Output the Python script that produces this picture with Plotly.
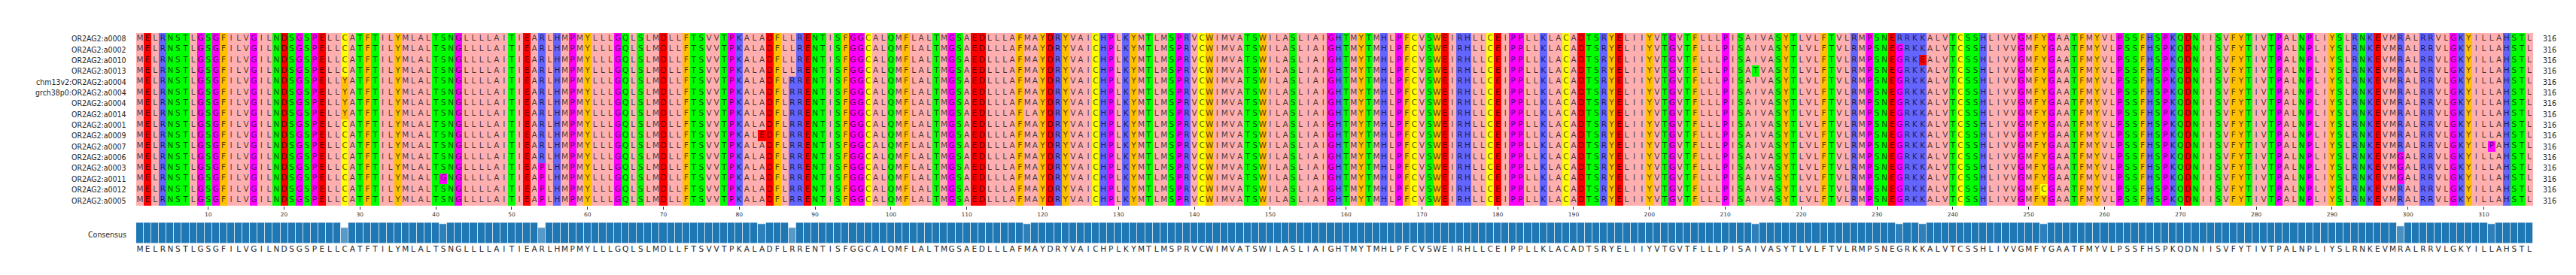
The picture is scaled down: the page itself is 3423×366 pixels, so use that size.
import plotly.graph_objects as go

names = ["OR2AG2:a0008", "OR2AG2:a0002", "OR2AG2:a0010", "OR2AG2:a0013",
         "chm13v2:OR2AG2:a0004", "grch38p0:OR2AG2:a0004", "OR2AG2:a0004",
         "OR2AG2:a0014", "OR2AG2:a0001", "OR2AG2:a0009", "OR2AG2:a0007",
         "OR2AG2:a0006", "OR2AG2:a0003", "OR2AG2:a0011", "OR2AG2:a0012",
         "OR2AG2:a0005"]

base_seq = ("MELRNSTLGS" "GFILVGILND" "SGSPELLCAT" "FTILYMLALT" "SNGLLLLAIT"
            "IEARLHMPMY" "LLLGQLSLMD" "LLFTSVVTPK" "ALADFLRREN" "TISFGGCALQ"
            "MFLALTMGSA" "EDLLLAFMAY" "DRYVAICHPL" "KYMTLMSPRV" "CWIMVATSWI"
            "LASLIAIGHT" "MYTMHLPFCV" "SWEIRHLLCE" "IPPLLKLACA" "DTSRYELIIY"
            "VTGVTFLLLP" "ISAIVASYTL" "VLFTVLRMPS" "NEGRKKALVT" "CSSHLIVVGM"
            "FYGAATFMYV" "LPSSFHSPKQ" "DNIISVFYTI" "VTPALNPLIY" "SLRNKEVMRA"
            "LRRVLGKYIL" "LAHSTL")

# substitutions read from the alignment: row index, 1-based position, residue
sub_rows = [4, 5, 6, 7, 13, 12, 13, 14, 15, 9, 0, 1, 2, 3, 7, 3, 0, 2, 14, 11, 12, 13, 10]
sub_pos = [28, 28, 28, 28, 41, 54, 54, 54, 54, 83, 87, 87, 87, 87, 118, 214, 233, 236, 252, 299, 299, 299, 311]
sub_res = "YYYYGPPPPELLLLLTRECGGGP"

seq_length = 316
tick_positions = list(range(10, 311, 10))

groups = ["AILMV", "DE", "RKH", "NSTQ", "GP", "FYW", "C"]
palette = ["#FFAFAF", "#FF0000", "#6464FF", "#00FF00", "#FF00FF", "#FFC000", "#FFFF00"]

# ---- build alignment -------------------------------------------------------
seqs = [list(base_seq) for _ in names]
for r, p, a in zip(sub_rows, sub_pos, sub_res):
    seqs[r][p - 1] = a
group_idx = {aa: gi for gi, g in enumerate(groups) for aa in g}

nrow = len(names)
ncol = len(base_seq)
positions = list(range(1, ncol + 1))

z = [[group_idx[seqs[r][c]] for c in range(ncol)] for r in range(nrow)]

cons_letters, cons_frac = [], []
for c in range(ncol):
    col = [seqs[r][c] for r in range(nrow)]
    best = max(set(col), key=lambda a: (col.count(a), a == base_seq[c]))
    cons_letters.append(best)
    cons_frac.append(col.count(best) / nrow)

k = len(palette)
cscale = []
for i, col in enumerate(palette):
    cscale.append([i / k, col])
    cscale.append([(i + 1) / k, col])

W, H = 3423.0, 366.0
L_PX, R_PX = 172.6, 3357.9
ROW_TOP, ROW_BOT = 36.0, 265.7
BAR_TOP, BAR_BOT = 288.3, 316.7
CONS_Y = 324.0


def px_x(x):
    return (x - L_PX) / (R_PX - L_PX)


def px_y(y):
    return 1 - y / H


FONT = "DejaVu Sans"
LABEL_FONT = "DejaVu Sans Condensed, DejaVu Sans"
fig = go.Figure()
fig.add_trace(go.Heatmap(
    x=positions, y=list(range(nrow)), z=z, colorscale=cscale, zmin=-0.5, zmax=k - 0.5,
    showscale=False, hoverinfo="skip", xgap=0, ygap=0))

tx, ty, tt = [], [], []
for r in range(nrow):
    for c in range(ncol):
        tx.append(c + 1); ty.append(r); tt.append(seqs[r][c])
fig.add_trace(go.Scatter(
    x=tx, y=ty, text=tt, mode="text", hoverinfo="skip",
    textfont=dict(family=FONT, size=10.5, color="rgba(0,0,0,0.72)")))

bar_colors = [f"rgba(31,119,180,{f:.4f})" for f in cons_frac]
fig.add_trace(go.Bar(
    x=positions, y=cons_frac, xaxis="x2", yaxis="y2", width=1,
    marker=dict(color=bar_colors, line=dict(color="rgba(255,255,255,0.6)", width=1)),
    hoverinfo="skip"))
fig.add_trace(go.Scatter(
    x=positions, y=[0] * ncol, text=cons_letters, mode="text", xaxis="x3", yaxis="y3",
    cliponaxis=False, hoverinfo="skip",
    textfont=dict(family=FONT, size=10.5, color="#262626")))

row_h = (ROW_BOT - ROW_TOP) / nrow
annotations = []
for r, nm in enumerate(names):
    yc = px_y(ROW_TOP + (r + 0.5) * row_h)
    annotations.append(dict(x=px_x(161.7), y=yc, xref="paper", yref="paper", text=nm,
                            showarrow=False, xanchor="right", yanchor="middle",
                            font=dict(family=LABEL_FONT, size=10.5, color="#262626")))
    annotations.append(dict(x=px_x(3369.3), y=yc, xref="paper", yref="paper",
                            text=str(seq_length), showarrow=False,
                            xanchor="left", yanchor="middle",
                            font=dict(family=LABEL_FONT, size=10.5, color="#262626")))
annotations.append(dict(x=px_x(161.7), y=px_y(304), xref="paper", yref="paper",
                        text="Consensus", showarrow=False, xanchor="right", yanchor="middle",
                        font=dict(family=LABEL_FONT, size=10.5, color="#262626")))

hidden = dict(showticklabels=False, showgrid=False, zeroline=False, ticks="", showline=False)
fig.update_layout(
    width=int(W), height=int(H),
    margin=dict(l=L_PX, r=W - R_PX, t=0, b=0, pad=0),
    paper_bgcolor="white", plot_bgcolor="white",
    showlegend=False, bargap=0,
    annotations=annotations,
    xaxis=dict(domain=[0, 1], range=[0.5, ncol + 0.5], anchor="y",
               tickvals=tick_positions, ticks="outside", ticklen=4, tickwidth=1,
               tickcolor="#333", tickfont=dict(family=FONT, size=7.5, color="#333"),
               showgrid=False, zeroline=False, showline=False),
    yaxis=dict(domain=[px_y(ROW_BOT), px_y(ROW_TOP)], range=[nrow - 0.5, -0.5], **hidden),
    xaxis2=dict(domain=[0, 1], range=[0.5, ncol + 0.5], anchor="y2", **hidden),
    yaxis2=dict(domain=[px_y(BAR_BOT), px_y(BAR_TOP)], range=[0, 1], **hidden),
    xaxis3=dict(domain=[0, 1], range=[0.5, ncol + 0.5], anchor="y3", **hidden),
    yaxis3=dict(domain=[px_y(CONS_Y + 6), px_y(CONS_Y - 6)], range=[-1, 1], **hidden),
)

fig.write_html("out.html")
